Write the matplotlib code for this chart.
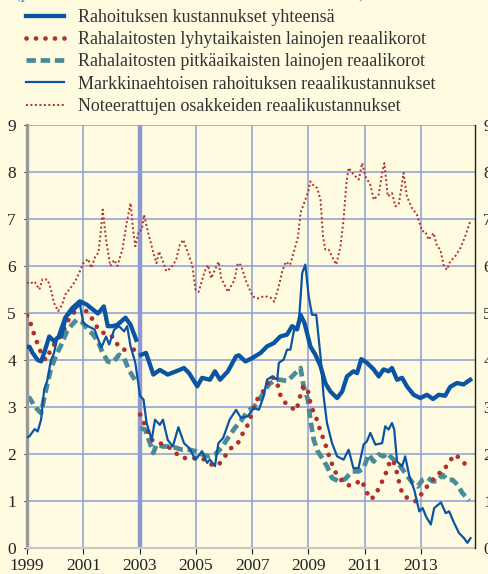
import numpy as np
import matplotlib
matplotlib.use("Agg")
import matplotlib.pyplot as plt

nan = np.nan

# Rahoituksen kustannukset yhteensä (break at 2003)
tot_t = [1999.0, 1999.09, 1999.2, 1999.38, 1999.5, 1999.61, 1999.79, 1999.96, 2000.13, 2000.36,
         2000.6, 2000.88, 2001.12, 2001.35, 2001.52, 2001.73, 2001.87, 2002.04, 2002.21, 2002.5,
         2002.68, 2002.88, 2002.95,
         2003.05, 2003.23, 2003.49, 2003.72, 2004.0, 2004.3, 2004.58, 2004.76, 2005.05, 2005.22,
         2005.5, 2005.68, 2005.86, 2006.14, 2006.43, 2006.53, 2006.76, 2007.0, 2007.3, 2007.53,
         2007.77, 2008.0, 2008.24, 2008.42, 2008.6, 2008.72, 2008.86, 2009.07, 2009.25, 2009.43,
         2009.6, 2009.78, 2010.02, 2010.2, 2010.37, 2010.6, 2010.73, 2010.88, 2011.08, 2011.32,
         2011.5, 2011.67, 2011.85, 2011.97, 2012.15, 2012.33, 2012.5, 2012.74, 2012.98, 2013.21,
         2013.43, 2013.63, 2013.86, 2014.04, 2014.28, 2014.51, 2014.75]
tot_v = [4.28, 4.28, 4.15, 4.0, 3.97, 4.15, 4.5, 4.4, 4.5, 4.9,
         5.1, 5.25, 5.18, 5.07, 4.99, 5.14, 4.72, 4.72, 4.75, 4.9,
         4.75, 4.43, nan,
         4.11, 4.15, 3.69, 3.79, 3.69, 3.76, 3.83, 3.72, 3.44, 3.62,
         3.58, 3.76, 3.58, 3.76, 4.08, 4.1, 3.97, 4.04, 4.15, 4.29,
         4.36, 4.5, 4.54, 4.72, 4.65, 4.96, 4.79, 4.29, 4.11, 3.87,
         3.51, 3.33, 3.19, 3.33, 3.65, 3.76, 3.72, 4.02, 3.94, 3.8,
         3.65, 3.8, 3.76, 3.83, 3.58, 3.62, 3.44, 3.26, 3.19, 3.26,
         3.17, 3.26, 3.24, 3.43, 3.51, 3.48, 3.58]

# Rahalaitosten lyhytaikaisten lainojen reaalikorot
srt_t = [1999.0, 1999.12, 1999.25, 1999.4, 1999.55, 1999.67, 1999.79, 1999.9, 2000.08, 2000.25,
         2000.48, 2000.71, 2000.88, 2001.06, 2001.23, 2001.4, 2001.58, 2001.75, 2001.92, 2002.1,
         2002.21, 2002.39, 2002.56, 2002.73, 2002.88, 2002.95,
         2003.02, 2003.12, 2003.25, 2003.43, 2003.6, 2003.83, 2004.0, 2004.18, 2004.41, 2004.64,
         2004.87, 2005.1, 2005.34, 2005.57, 2005.8, 2006.03, 2006.26, 2006.47, 2006.64, 2006.82,
         2007.0, 2007.18, 2007.36, 2007.53, 2007.71, 2007.89, 2008.0, 2008.12, 2008.34, 2008.57,
         2008.72, 2008.82, 2008.98, 2009.1, 2009.24, 2009.41, 2009.59, 2009.76, 2009.94, 2010.16,
         2010.41, 2010.68, 2010.88, 2011.06, 2011.18, 2011.35, 2011.53, 2011.71, 2011.88, 2012.0,
         2012.12, 2012.24, 2012.35, 2012.53, 2012.71, 2012.82, 2012.94, 2013.06, 2013.24, 2013.41,
         2013.59, 2013.76, 2013.88, 2014.06, 2014.21, 2014.41, 2014.59]
srt_v = [4.95, 4.79, 4.55, 4.3, 4.08, 4.0, 4.15, 4.29, 4.4, 4.57,
         4.86, 5.04, 5.18, 5.07, 4.96, 4.79, 4.61, 4.57, 4.54, 4.47,
         4.33, 4.22, 4.22, 4.22, 4.22, nan,
         2.84, 2.7, 2.55, 2.3, 2.27, 2.2, 2.16, 2.09, 1.95, 1.91,
         1.91, 1.91, 1.88, 1.77, 1.76, 1.95, 2.13, 2.2, 2.41, 2.59,
         2.87, 3.16, 3.3, 3.48, 3.65, 3.51, 3.26, 3.12, 3.01, 2.92,
         3.26, 3.45, 3.35, 3.0, 2.84, 2.52, 2.23, 1.91, 1.63, 1.45,
         1.33, 1.37, 1.45, 1.21, 1.04, 1.09, 1.31, 1.52, 1.81, 1.88,
         1.67, 1.35, 1.13, 1.06, 1.03, 0.99, 1.09, 1.18, 1.33, 1.45,
         1.52, 1.7, 1.72, 1.88, 1.99, 1.89, 1.77]

# Rahalaitosten pitkäaikaisten lainojen reaalikorot
lrt_t = [1999.0, 1999.09, 1999.32, 1999.5, 1999.61, 1999.73, 1999.84, 2000.02, 2000.19, 2000.42,
         2000.6, 2000.77, 2000.94, 2001.12, 2001.35, 2001.52, 2001.69, 2001.87, 2002.04, 2002.27,
         2002.45, 2002.62, 2002.79, 2002.91, 2002.96,
         2003.02, 2003.2, 2003.37, 2003.49, 2003.6, 2003.83, 2004.06, 2004.3, 2004.53, 2004.76,
         2004.99, 2005.22, 2005.45, 2005.68, 2005.91, 2006.14, 2006.38, 2006.61, 2006.84, 2007.06,
         2007.18, 2007.41, 2007.59, 2007.83, 2008.0, 2008.24, 2008.42, 2008.6, 2008.72, 2008.83,
         2008.98, 2009.07, 2009.19, 2009.33, 2009.49, 2009.66, 2009.84, 2010.08, 2010.31, 2010.55,
         2010.79, 2010.96, 2011.14, 2011.32, 2011.5, 2011.67, 2011.79, 2012.03, 2012.18, 2012.35,
         2012.53, 2012.71, 2012.88, 2013.06, 2013.24, 2013.41, 2013.59, 2013.76, 2013.94, 2014.12,
         2014.29, 2014.47, 2014.71]
lrt_v = [3.2, 3.19, 2.98, 2.87, 3.19, 3.51, 3.79, 4.08, 4.29, 4.61,
         4.75, 4.86, 4.82, 4.68, 4.54, 4.4, 4.15, 3.97, 3.94, 4.11,
         4.04, 3.79, 3.62, 3.51, nan,
         2.55, 2.52, 2.23, 2.02, 2.2, 2.16, 2.16, 2.13, 2.09, 2.09,
         2.06, 1.99, 1.95, 1.99, 2.13, 2.34, 2.55, 2.71, 2.91, 3.0,
         3.09, 3.3, 3.48, 3.58, 3.58, 3.55, 3.65, 3.76, 3.83, 3.44,
         3.16, 2.73, 2.3, 2.06, 1.91, 1.74, 1.49, 1.42, 1.47, 1.63,
         1.63, 1.7, 1.99, 1.84, 1.99, 1.95, 2.02, 1.88, 1.81, 1.67,
         1.52, 1.38, 1.31, 1.45, 1.49, 1.42, 1.42, 1.56, 1.45, 1.45,
         1.35, 1.17, 1.01]

# Markkinaehtoisen rahoituksen reaalikustannukset
mkt_t = [1999.0, 1999.09, 1999.27, 1999.38, 1999.5, 1999.61, 1999.73, 1999.84, 1999.96, 2000.08,
         2000.25, 2000.42, 2000.65, 2000.88, 2001.0, 2001.17, 2001.4, 2001.64, 2001.81, 2001.92,
         2002.1, 2002.27, 2002.45, 2002.56, 2002.68, 2002.85, 2003.02, 2003.14, 2003.25, 2003.43,
         2003.55, 2003.72, 2003.83, 2004.0, 2004.18, 2004.38, 2004.58, 2004.76, 2004.99, 2005.22,
         2005.4, 2005.5, 2005.68, 2005.8, 2005.97, 2006.2, 2006.43, 2006.6, 2006.84, 2007.06,
         2007.24, 2007.41, 2007.53, 2007.71, 2007.89, 2007.95, 2008.12, 2008.24, 2008.36, 2008.48,
         2008.66, 2008.78, 2008.89, 2009.01, 2009.13, 2009.28, 2009.43, 2009.54, 2009.66, 2009.84,
         2010.02, 2010.25, 2010.43, 2010.6, 2010.78, 2010.96, 2011.08, 2011.2, 2011.38, 2011.62,
         2011.73, 2011.85, 2011.97, 2012.05, 2012.15, 2012.33, 2012.44, 2012.59, 2012.76, 2012.94,
         2013.06, 2013.18, 2013.35, 2013.47, 2013.71, 2013.88, 2014.0, 2014.18, 2014.35, 2014.53,
         2014.65, 2014.76]
mkt_v = [2.35, 2.38, 2.53, 2.48, 2.73, 3.37, 3.58, 3.97, 4.15, 4.47,
         4.5, 4.93, 5.04, 5.18, 4.79, 4.72, 4.65, 4.26, 4.5, 4.33,
         4.65, 4.72, 4.61, 4.72, 4.29, 3.94, 3.23, 3.16, 2.66, 2.3,
         2.73, 2.62, 2.73, 2.3, 2.16, 2.57, 2.23, 2.13, 1.88, 2.06,
         1.81, 1.88, 1.74, 2.23, 2.34, 2.73, 2.94, 2.77, 2.8, 2.98,
         2.94, 3.23, 3.58, 3.65, 3.58, 3.94, 4.01, 4.22, 4.22, 4.61,
         4.79, 5.85, 6.03, 5.35, 4.96, 4.96, 4.08, 3.23, 2.66, 2.23,
         1.95, 1.88, 2.09, 1.7, 1.7, 2.2, 2.27, 2.45, 2.2, 2.23,
         2.59, 2.52, 2.66, 2.52, 1.84, 1.74, 1.95, 1.52, 1.24, 0.78,
         0.85, 0.67, 0.5, 0.85, 0.97, 0.74, 0.78, 0.53, 0.32, 0.21,
         0.11, 0.21]

# Noteerattujen osakkeiden reaalikustannukset
eq_t = [1999.0, 1999.09, 1999.27, 1999.44, 1999.55, 1999.73, 1999.84, 1999.96, 2000.11, 2000.25,
        2000.36, 2000.54, 2000.71, 2000.88, 2001.0, 2001.17, 2001.29, 2001.43, 2001.54, 2001.64,
        2001.69, 2001.81, 2001.96, 2002.1, 2002.21, 2002.39, 2002.54, 2002.68, 2002.77, 2002.85,
        2002.97, 2003.08, 2003.16, 2003.31, 2003.49, 2003.6, 2003.69, 2003.83, 2003.95, 2004.12,
        2004.3, 2004.43, 2004.55, 2004.7, 2004.87, 2004.99, 2005.1, 2005.31, 2005.43, 2005.55,
        2005.67, 2005.81, 2005.9, 2006.14, 2006.37, 2006.49, 2006.6, 2006.79, 2007.02, 2007.2,
        2007.43, 2007.65, 2007.79, 2007.96, 2008.08, 2008.2, 2008.35, 2008.52, 2008.63, 2008.72,
        2008.89, 2009.0, 2009.07, 2009.2, 2009.31, 2009.43, 2009.52, 2009.6, 2009.72, 2009.84,
        2009.99, 2010.14, 2010.25, 2010.35, 2010.43, 2010.61, 2010.79, 2010.91, 2011.02, 2011.2,
        2011.32, 2011.5, 2011.62, 2011.7, 2011.82, 2011.97, 2012.09, 2012.21, 2012.33, 2012.38,
        2012.5, 2012.68, 2012.86, 2013.04, 2013.15, 2013.27, 2013.45, 2013.57, 2013.69, 2013.8,
        2013.92, 2014.04, 2014.22, 2014.4, 2014.57, 2014.75]
eq_v = [5.65, 5.62, 5.67, 5.5, 5.72, 5.71, 5.53, 5.21, 5.04, 5.18,
        5.39, 5.53, 5.67, 5.89, 6.06, 6.15, 5.96, 6.21, 6.28, 6.84,
        7.2, 6.56, 6.0, 6.13, 6.0, 6.35, 6.91, 7.34, 6.77, 6.42,
        6.74, 6.77, 7.09, 6.7, 6.28, 6.06, 6.31, 6.1, 5.89, 5.96,
        6.13, 6.45, 6.56, 6.31, 6.03, 5.49, 5.45, 5.88, 6.02, 5.74,
        5.91, 6.09, 5.74, 5.45, 5.7, 6.06, 6.02, 5.67, 5.35, 5.31,
        5.36, 5.33, 5.24, 5.6, 5.91, 6.09, 6.02, 6.38, 6.62, 7.13,
        7.41, 7.6, 7.8, 7.7, 7.66, 7.41, 6.63, 6.35, 6.35, 6.2,
        6.03, 6.42, 6.99, 7.77, 8.09, 7.94, 7.84, 8.19, 7.91, 7.73,
        7.41, 7.52, 7.98, 8.19, 7.48, 7.55, 7.27, 7.31, 7.77, 7.98,
        7.48, 7.23, 7.09, 6.74, 6.74, 6.56, 6.7, 6.42, 6.35, 6.03,
        5.92, 6.1, 6.21, 6.38, 6.63, 6.95]

labels = ["Rahoituksen kustannukset yhteensä",
          "Rahalaitosten lyhytaikaisten lainojen reaalikorot",
          "Rahalaitosten pitkäaikaisten lainojen reaalikorot",
          "Markkinaehtoisen rahoituksen reaalikustannukset",
          "Noteerattujen osakkeiden reaalikustannukset"]
year_ticks = [1999, 2001, 2003, 2005, 2007, 2009, 2011, 2013]
y_ticks = list(range(10))

BG = "#FFFBE0"
BLUE = "#0A55A3"
RED = "#B0302C"
TEAL = "#4A8B9A"
GRID = "#8C9CD8"

plt.rcParams["font.family"] = ["Liberation Serif", "DejaVu Serif"]

fig = plt.figure(figsize=(4.89, 5.74), dpi=100, facecolor=BG)
ax = fig.add_axes([27 / 489, 1 - 548 / 574, 448 / 489, 423 / 574])
ax.set_facecolor(BG)

ax.set_xlim(1999, 2014.92)
ax.set_ylim(0, 9)
ax.set_xticks(year_ticks)
ax.set_xticklabels([str(y) for y in year_ticks])
ax.set_yticks(y_ticks)
ax.grid(True, color=GRID, lw=1.1)
ax.set_axisbelow(True)
ax.axvline(2003, color="#8C98D4", lw=3.2, zorder=1.5)

h_tot, = ax.plot(tot_t, tot_v, color=BLUE, lw=3.1, solid_joinstyle="round", zorder=5)
h_srt, = ax.plot(srt_t, srt_v, color=RED, lw=3.4, linestyle=(0, (0.01, 2.0)),
                 dash_capstyle="round", zorder=3)
h_lrt, = ax.plot(lrt_t, lrt_v, color=TEAL, lw=3.4, linestyle=(0, (2.0, 1.0)), zorder=2)
h_mkt, = ax.plot(mkt_t, mkt_v, color=BLUE, lw=1.6, zorder=4)
h_eq, = ax.plot(eq_t, eq_v, color=RED, lw=1.4, linestyle=(0, (1, 1.3)), zorder=3)

ax.spines["top"].set_visible(False)
ax.spines["right"].set_visible(False)
ax.spines["left"].set_color("#999999")
ax.spines["left"].set_linewidth(2.4)
ax.spines["bottom"].set_color("#c8c8c8")
ax.spines["bottom"].set_linewidth(1.5)

ax.tick_params(axis="y", labelsize=12.5, colors="#222222", length=2, pad=6, direction="out")
ax.tick_params(axis="x", labelsize=12.5, colors="#222222", length=4, pad=3, direction="out")

# right-hand scale
ax2 = ax.twinx()
ax2.set_ylim(0, 9)
ax2.set_yticks(y_ticks)
for s in ["top", "left", "bottom"]:
    ax2.spines[s].set_visible(False)
ax2.spines["right"].set_color("#222222")
ax2.spines["right"].set_linewidth(1.0)
ax2.tick_params(axis="y", labelsize=12.5, colors="#222222", length=0, pad=6)

leg = fig.legend([h_tot, h_srt, h_lrt, h_mkt, h_eq], labels,
                 loc="upper left", bbox_to_anchor=(26 / 489, 1 - 9 / 574),
                 frameon=False, fontsize=13, handlelength=2.1, handletextpad=0.8,
                 labelspacing=0.29, borderpad=0, borderaxespad=0)
for t in leg.get_texts():
    t.set_color("#333333")

fig.text(15 / 489, 1 + 1.5 / 574, "(prosenttia, kolmen kuukauden liukuva keskiarvo)",
         color="#3A7FD0", fontsize=12.5, va="baseline", ha="left")

fig.savefig("out.png", dpi=100, facecolor=BG)
